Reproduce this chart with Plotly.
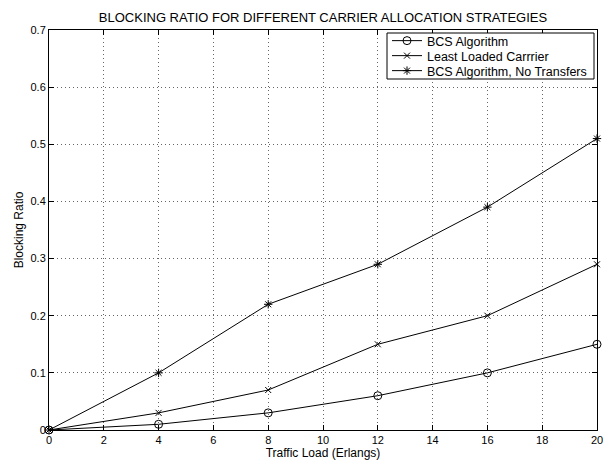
import plotly.graph_objects as go

traffic_load = [0, 4, 8, 12, 16, 20]
bcs_algorithm = [0, 0.01, 0.03, 0.06, 0.10, 0.15]
least_loaded = [0, 0.03, 0.07, 0.15, 0.20, 0.29]
bcs_no_transfers = [0, 0.10, 0.22, 0.29, 0.39, 0.51]

series_names = ["BCS Algorithm", "Least Loaded Carrrier", "BCS Algorithm, No Transfers"]
series_values = [bcs_algorithm, least_loaded, bcs_no_transfers]
series_symbols = ["circle-open", "x-thin-open", "asterisk-open"]
series_sizes = [8, 6, 7]
legend_ids = ["legend", "legend2", "legend3"]

fig = go.Figure()
for name, ys, sym, sz, lg in zip(series_names, series_values, series_symbols, series_sizes, legend_ids):
    fig.add_trace(go.Scatter(
        x=traffic_load, y=ys, name=name, mode="lines+markers",
        line=dict(color="black", width=1),
        marker=dict(symbol=sym, size=sz, color="black",
                    line=dict(color="black", width=1)),
        cliponaxis=False, legend=lg,
    ))

axis_common = dict(
    showline=True, linecolor="black", linewidth=1, mirror="ticks",
    ticks="inside", ticklen=5, tickcolor="black",
    showgrid=True, gridcolor="#666", griddash="1px,3px", gridwidth=1,
    zeroline=False, tickfont=dict(size=11, color="black"), automargin=False,
)

# page has an 8px body margin; keep content inside the visible window
L, R, T, B = 41, 16, 22, 30
W, H = 605, 452
PW, PH = W - L - R, H - T - B


def px(xp):  # page x -> paper
    return (xp - 8 - L) / PW


def py(yp):  # page y -> paper
    return (H - B + 8 - yp) / PH


legend_style = dict(bgcolor="rgba(0,0,0,0)", borderwidth=0, font=dict(size=12.5),
                    itemwidth=30, xanchor="left", yanchor="middle", x=px(387))
row_y = [41, 56, 71]

fig.update_layout(
    width=W, height=H,
    margin=dict(l=L, r=R, t=T, b=B),
    paper_bgcolor="white", plot_bgcolor="white",
    font=dict(family="Liberation Sans, Arial, sans-serif", color="black", size=11),
    title=dict(text="BLOCKING RATIO FOR DIFFERENT CARRIER ALLOCATION STRATEGIES",
               x=(L + W - R) / 2 / W, xanchor="center", y=1 - 9 / H, yanchor="middle",
               font=dict(size=13)),
    xaxis=dict(range=[0, 20], dtick=2, tick0=0,
               title=dict(text="Traffic Load (Erlangs)", standoff=0, font=dict(size=12)),
               **axis_common),
    yaxis=dict(range=[0, 0.7], dtick=0.1, tick0=0,
               title=dict(text="Blocking Ratio", standoff=4, font=dict(size=12)),
               **axis_common),
    legend=dict(y=py(row_y[0]), **legend_style),
    legend2=dict(y=py(row_y[1]), **legend_style),
    legend3=dict(y=py(row_y[2]), **legend_style),
    showlegend=True,
    shapes=[dict(type="rect", xref="paper", yref="paper",
                 x0=px(387), x1=px(594), y0=py(79), y1=py(33),
                 line=dict(color="black", width=1), fillcolor="white", layer="above")],
)

fig.write_html("out.html")
